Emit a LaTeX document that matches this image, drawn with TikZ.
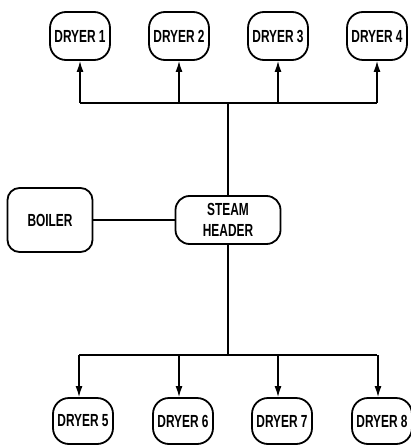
\documentclass[tikz,border=0pt]{standalone}
\usepackage{fontspec}
\newfontfamily\unitfont{Liberation Sans}[FakeStretch=0.68]
\usetikzlibrary{arrows.meta,positioning}

\tikzset{
  unit/.style={draw, line width=1.8pt, rounded corners=16pt, fill=white,
    minimum width=60pt, minimum height=48pt, inner sep=1pt,
    font=\unitfont\bfseries\fontsize{17.5}{21}\selectfont, align=center},
  pipe/.style={line width=1.5pt},
  flow/.style={pipe, -{Latex[length=11pt,width=7pt]}}
}

\begin{document}
\begin{tikzpicture}[x=1pt, y=-1pt]
    \useasboundingbox (0,0) rectangle (411,446);

    % Upper dryers
    \foreach \i/\x in {1/80, 2/179, 3/278, 4/377}
      \node[unit] (d\i) at (\x,36) {DRYER \i};

    % Lower dryers
    \foreach \i/\x in {5/83, 6/183, 7/282, 8/382}
      \node[unit, minimum height=46pt] (d\i) at (\x,421) {DRYER \i};

    % Boiler and header
    \node[unit, minimum width=85pt, minimum height=64pt, rounded corners=12pt] (boiler) at (50,220) {BOILER};
    \node[unit, minimum width=105pt, rounded corners=14pt] (header) at (228,220) {STEAM\\HEADER};

    % Branch points
    \coordinate (topbus) at (228,103);
    \coordinate (botbus) at (228,355);

    % Pipes
    \draw[pipe] (boiler) -- (header);
    \draw[pipe] (header) -- (topbus);
    \draw[pipe] (header) -- (botbus);
    \draw[pipe] (d1 |- topbus) -- (d4 |- topbus);
    \draw[pipe] ([xshift=-4pt]d5.north |- botbus) -- ([xshift=-5pt]d8.north |- botbus);

    % Steam to dryers
    \foreach \i in {1,...,4}
      \draw[flow] (d\i |- topbus) -- (d\i);
    \foreach \i in {5,...,8}
      \draw[flow] ([xshift=-4pt]d\i.north |- botbus) -- ([xshift=-4pt]d\i.north);
\end{tikzpicture}
\end{document}
